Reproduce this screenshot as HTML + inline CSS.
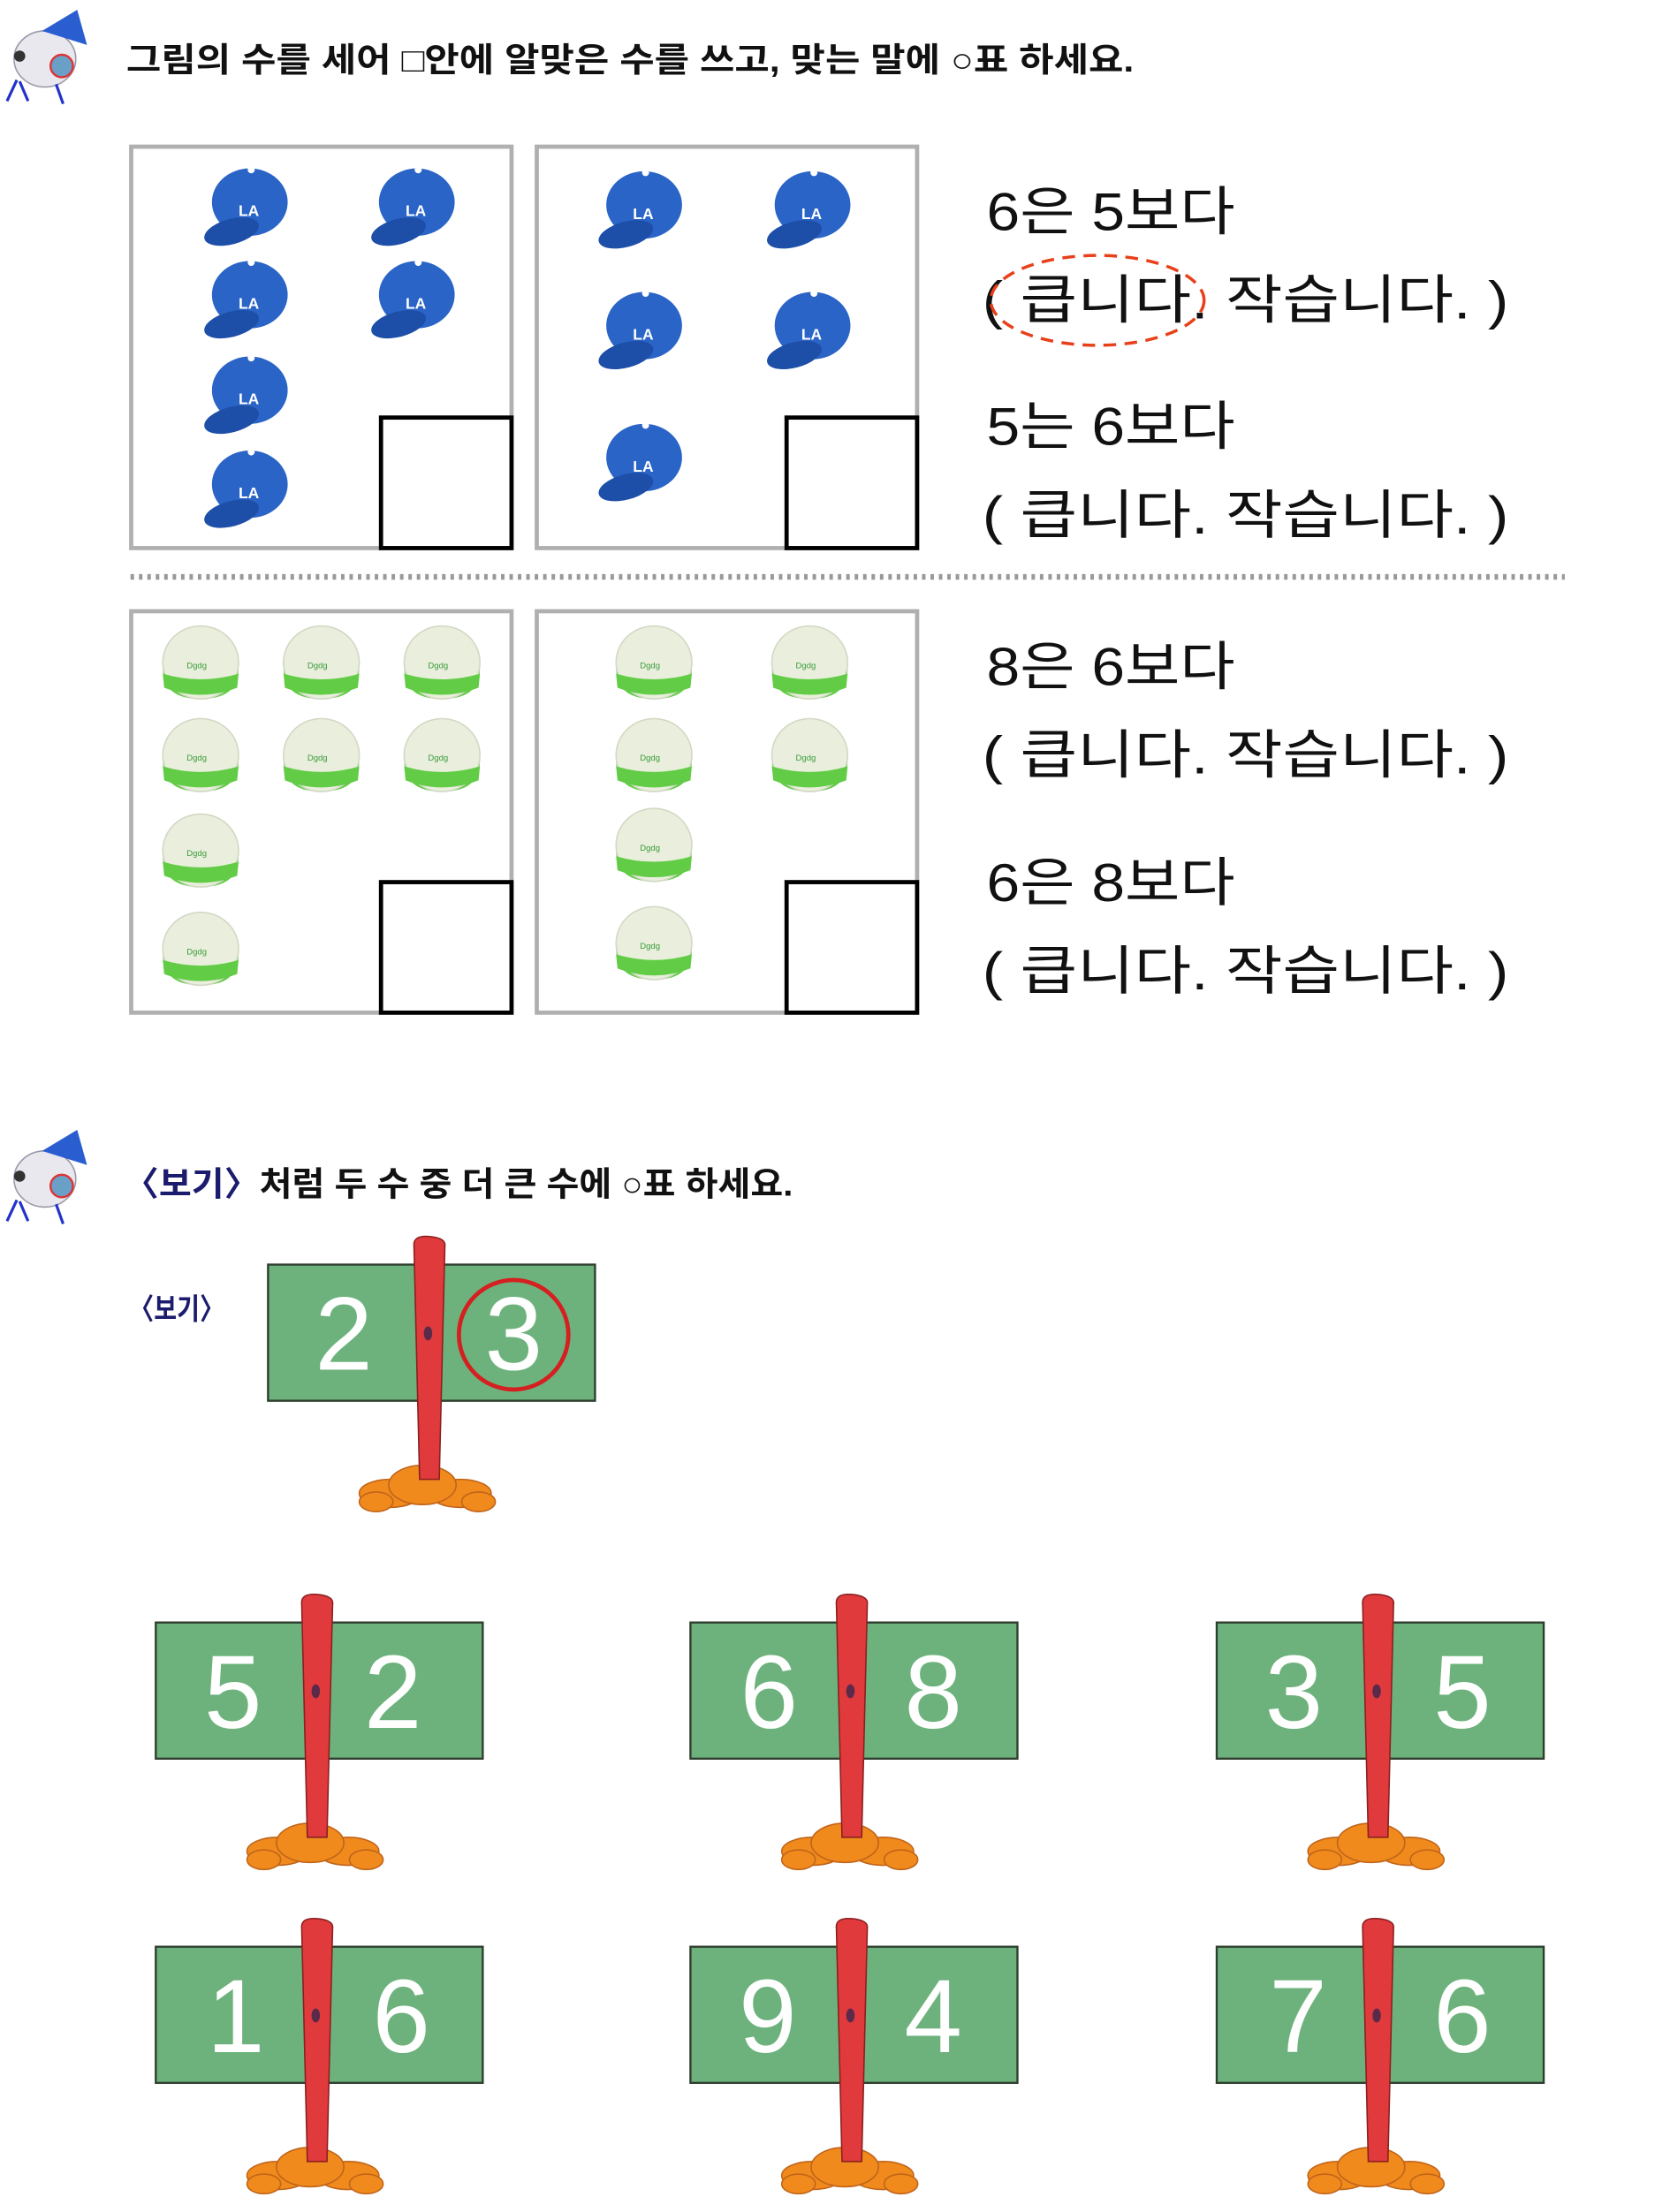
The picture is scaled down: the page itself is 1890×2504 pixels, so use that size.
<!DOCTYPE html>
<html><head><meta charset="utf-8"><style>
html,body{margin:0;padding:0;background:#fff;}
svg{display:block;}
text{font-family:"Liberation Sans","Noto Sans CJK KR",sans-serif;}
</style></head><body>
<svg width="1890" height="2504" viewBox="0 0 1190 1576" preserveAspectRatio="none" xmlns="http://www.w3.org/2000/svg">
<defs>
<g id="bcap">
<ellipse cx="3" cy="-6" rx="27" ry="24" fill="#2a64c6"/>
<ellipse cx="-10" cy="15" rx="20" ry="9" fill="#1d4ea8" transform="rotate(-15 -10 15)"/>
<circle cx="4" cy="-29" r="2.5" fill="#fff"/>
<text x="-5" y="4" font-size="11" fill="#fff" font-weight="bold">LA</text>
</g>
<g id="gcap">
<path d="M-27 6 Q-27 28 0 28 Q27 28 27 6 Z" fill="#62cc46"/>
<ellipse cx="0" cy="2" rx="27" ry="26" fill="#e9efdc" stroke="#d2d8c4"/>
<path d="M-27 10 Q0 18 27 10 L26 20 Q0 30 -26 20 Z" fill="#62cc46"/>
<text x="-10" y="6" font-size="6" fill="#3a9a3a">Dgdg</text>
</g>
<g id="mascot">
<ellipse cx="32" cy="40" rx="22" ry="20" fill="#e8e8ee" stroke="#99a" stroke-width="1"/>
<path d="M30 20 L55 5 L62 30 Z" fill="#2a5ed0"/>
<circle cx="44" cy="45" r="8" fill="#6aa0c8" stroke="#d33" stroke-width="1.5"/>
<path d="M12 55 L5 70 M14 56 L20 70 M40 58 L45 72" stroke="#23c" stroke-width="2"/>
<circle cx="14" cy="38" r="4" fill="#333"/>
</g>
<g id="sign">
<rect x="-115" y="19" width="233" height="97" fill="#6db27c" stroke="#2f3f2f" stroke-width="1.5"/>
<g fill="#f08a1c" stroke="#c0641a" stroke-width="1">
<ellipse cx="-28" cy="182" rx="22" ry="10"/><ellipse cx="22" cy="182" rx="22" ry="10"/>
<ellipse cx="-5" cy="176" rx="24" ry="14"/><ellipse cx="-38" cy="188" rx="12" ry="7"/><ellipse cx="35" cy="188" rx="12" ry="7"/>
</g>
<path d="M-11 6 Q-12 -2 0 -1 Q12 0 11 6 L7 172 L-7 172 Z" fill="#e03a3c" stroke="#8a2020" stroke-width="1"/>
<ellipse cx="-1" cy="68" rx="3" ry="5" fill="#5a2a4a"/>
</g>
</defs>

<use href="#mascot" x="0" y="2"/>
<text x="90" y="51" font-size="24" font-weight="bold" fill="#111" textLength="718" lengthAdjust="spacingAndGlyphs">그림의 수를 세어 <tspan font-weight="normal">□</tspan>안에 알맞은 수를 쓰고, 맞는 말에 ○표 하세요.</text>

<rect x="93.5" y="104.5" width="271" height="286" fill="none" stroke="#b0b0b0" stroke-width="3"/>
<rect x="382.5" y="104.5" width="271" height="286" fill="none" stroke="#b0b0b0" stroke-width="3"/>
<rect x="271.5" y="297.5" width="93" height="93" fill="#fff" stroke="#000" stroke-width="3"/>
<rect x="560.5" y="297.5" width="93" height="93" fill="#fff" stroke="#000" stroke-width="3"/>
<use href="#bcap" x="175" y="150"/><use href="#bcap" x="294" y="150"/>
<use href="#bcap" x="175" y="216"/><use href="#bcap" x="294" y="216"/>
<use href="#bcap" x="175" y="284"/><use href="#bcap" x="175" y="351"/>
<use href="#bcap" x="456" y="152"/><use href="#bcap" x="576" y="152"/>
<use href="#bcap" x="456" y="238"/><use href="#bcap" x="576" y="238"/>
<use href="#bcap" x="456" y="332"/>

<g font-size="38" fill="#111">
<text x="703" y="164" textLength="177" lengthAdjust="spacingAndGlyphs">6은 5보다</text>
<text x="700" y="227" textLength="375" lengthAdjust="spacingAndGlyphs">( 큽니다.  작습니다. )</text>
<text x="703" y="317" textLength="177" lengthAdjust="spacingAndGlyphs">5는 6보다</text>
<text x="700" y="380" textLength="375" lengthAdjust="spacingAndGlyphs">( 큽니다.  작습니다. )</text>
<text x="703" y="488" textLength="177" lengthAdjust="spacingAndGlyphs">8은 6보다</text>
<text x="700" y="551" textLength="375" lengthAdjust="spacingAndGlyphs">( 큽니다.  작습니다. )</text>
<text x="703" y="642" textLength="177" lengthAdjust="spacingAndGlyphs">6은 8보다</text>
<text x="700" y="705" textLength="375" lengthAdjust="spacingAndGlyphs">( 큽니다.  작습니다. )</text>
</g>
<ellipse cx="782" cy="214" rx="76" ry="32" fill="none" stroke="#e8401a" stroke-width="2.2" stroke-dasharray="9 6"/>

<line x1="93" y1="411" x2="1115" y2="411" stroke="#999" stroke-width="4" stroke-dasharray="2.5 3.5"/>

<rect x="93.5" y="435.5" width="271" height="286" fill="none" stroke="#b0b0b0" stroke-width="3"/>
<rect x="382.5" y="435.5" width="271" height="286" fill="none" stroke="#b0b0b0" stroke-width="3"/>
<rect x="271.5" y="628.5" width="93" height="93" fill="#fff" stroke="#000" stroke-width="3"/>
<rect x="560.5" y="628.5" width="93" height="93" fill="#fff" stroke="#000" stroke-width="3"/>
<use href="#gcap" x="143" y="470"/><use href="#gcap" x="229" y="470"/><use href="#gcap" x="315" y="470"/>
<use href="#gcap" x="143" y="536"/><use href="#gcap" x="229" y="536"/><use href="#gcap" x="315" y="536"/>
<use href="#gcap" x="143" y="604"/><use href="#gcap" x="143" y="674"/>
<use href="#gcap" x="466" y="470"/><use href="#gcap" x="577" y="470"/>
<use href="#gcap" x="466" y="536"/><use href="#gcap" x="577" y="536"/>
<use href="#gcap" x="466" y="600"/><use href="#gcap" x="466" y="670"/>

<use href="#mascot" x="0" y="800"/>
<text x="88" y="852" font-size="24" font-weight="bold" fill="#111" textLength="477" lengthAdjust="spacingAndGlyphs"><tspan fill="#1c1c6e">〈보기〉</tspan>처럼 두 수 중 더 큰 수에 ○표 하세요.</text>
<text x="92" y="940" font-size="21" font-weight="bold" fill="#1c1c6e" textLength="68" lengthAdjust="spacingAndGlyphs">〈보기〉</text>

<use href="#sign" x="306" y="882"/>
<g fill="#fff" font-size="74" text-anchor="middle">
<text x="245" y="976">2</text><text x="366" y="976">3</text>
</g>
<circle cx="366" cy="951" r="39" fill="none" stroke="#d42020" stroke-width="3"/>

<use href="#sign" x="226" y="1137"/><use href="#sign" x="607" y="1137"/><use href="#sign" x="982" y="1137"/>
<use href="#sign" x="226" y="1368"/><use href="#sign" x="607" y="1368"/><use href="#sign" x="982" y="1368"/>
<g fill="#fff" font-size="74" text-anchor="middle">
<text x="166" y="1231">5</text><text x="280" y="1231">2</text>
<text x="548" y="1231">6</text><text x="665" y="1231">8</text>
<text x="922" y="1231">3</text><text x="1042" y="1231">5</text>
<text x="168" y="1462">1</text><text x="286" y="1462">6</text>
<text x="547" y="1462">9</text><text x="665" y="1462">4</text>
<text x="925" y="1462">7</text><text x="1042" y="1462">6</text>
</g>
</svg>
</body></html>
